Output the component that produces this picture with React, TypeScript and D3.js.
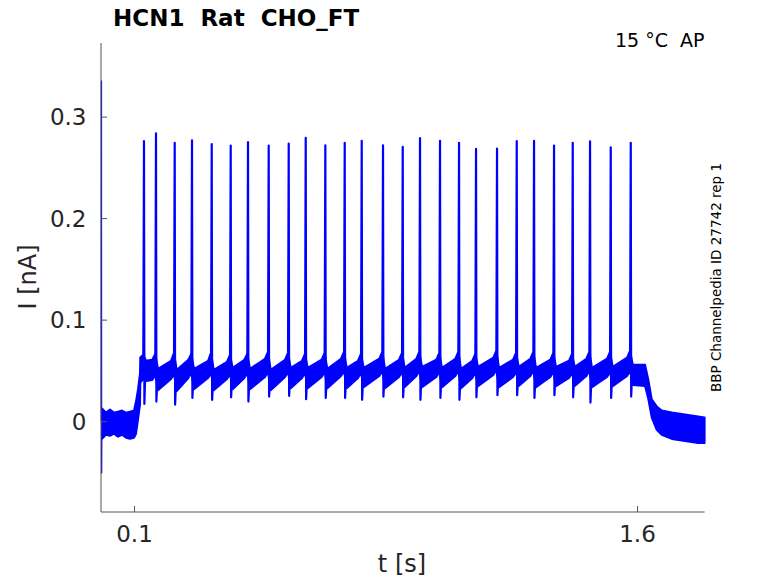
import React from "react";
import * as d3 from "d3";

// ---- data ----
const spikeT = [0.1282, 0.164, 0.2198, 0.2714, 0.3302, 0.3868, 0.4384, 0.5001, 0.5598, 0.6105, 0.669, 0.7268, 0.7775, 0.841, 0.8998, 0.9514, 1.011, 1.0677, 1.1184, 1.181, 1.2398, 1.2914, 1.351, 1.4068, 1.4584, 1.5201, 1.5798];
const spikePeak = [0.2763, 0.2839, 0.2747, 0.277, 0.2733, 0.272, 0.2753, 0.272, 0.274, 0.2796, 0.2723, 0.2747, 0.2767, 0.2723, 0.2707, 0.2792, 0.2767, 0.2747, 0.2687, 0.269, 0.2763, 0.2767, 0.272, 0.2747, 0.276, 0.2703, 0.2747];
const spikeTrough = [0.0175, 0.0198, 0.0168, 0.0234, 0.0215, 0.024, 0.0198, 0.0247, 0.0254, 0.0221, 0.0234, 0.0234, 0.0215, 0.0247, 0.024, 0.0215, 0.0234, 0.0215, 0.024, 0.026, 0.026, 0.0234, 0.026, 0.024, 0.0188, 0.0234, 0.0247];
// noise band a few ms before each spike, at its foot, and just after it
const preHi = [0.0633, 0.061, 0.06, 0.061, 0.06, 0.059, 0.061, 0.062, 0.061, 0.06, 0.061, 0.062, 0.06, 0.062, 0.061, 0.062, 0.061, 0.062, 0.06, 0.063, 0.061, 0.062, 0.061, 0.06, 0.062, 0.062, 0.063];
const preLo = [0.0386, 0.041, 0.042, 0.043, 0.043, 0.042, 0.043, 0.044, 0.044, 0.043, 0.044, 0.045, 0.043, 0.045, 0.044, 0.045, 0.044, 0.045, 0.043, 0.046, 0.044, 0.045, 0.044, 0.043, 0.045, 0.044, 0.045];
const footHi = [0.066, 0.067, 0.068, 0.067, 0.068, 0.066, 0.067, 0.069, 0.068, 0.067, 0.068, 0.069, 0.067, 0.069, 0.068, 0.069, 0.068, 0.069, 0.067, 0.07, 0.068, 0.069, 0.068, 0.067, 0.069, 0.069, 0.07];
const footLo = [0.042, 0.046, 0.047, 0.048, 0.048, 0.047, 0.048, 0.049, 0.049, 0.048, 0.049, 0.05, 0.048, 0.05, 0.049, 0.05, 0.049, 0.05, 0.048, 0.051, 0.049, 0.05, 0.049, 0.048, 0.05, 0.049, 0.05];
const postHi = [0.06, 0.052, 0.051, 0.052, 0.051, 0.053, 0.052, 0.051, 0.053, 0.053, 0.052, 0.053, 0.053, 0.052, 0.053, 0.054, 0.053, 0.052, 0.054, 0.053, 0.054, 0.053, 0.054, 0.054, 0.053, 0.054, 0.056];
const postLo = [0.04, 0.031, 0.03, 0.032, 0.031, 0.032, 0.032, 0.031, 0.033, 0.033, 0.033, 0.033, 0.034, 0.033, 0.034, 0.034, 0.034, 0.033, 0.035, 0.034, 0.035, 0.034, 0.035, 0.035, 0.034, 0.035, 0.036];
// holding level and onset of the step
const headT = [0.003, 0.0149, 0.0268, 0.0388, 0.0507, 0.0626, 0.0746, 0.0865, 0.0984, 0.1044, 0.1103, 0.1163];
const headHi = [0.0129, 0.0089, 0.0119, 0.0089, 0.0099, 0.0109, 0.0089, 0.0099, 0.0109, 0.0198, 0.0317, 0.0475];
const headLo = [-0.0168, -0.0129, -0.0139, -0.0119, -0.0148, -0.0129, -0.0158, -0.0168, -0.0158, -0.0119, 0.002, 0.0168];
// end of the step and return
const tailT = [1.6224, 1.6323, 1.6424, 1.6573, 1.6722, 1.7021, 1.7417, 1.7805, 1.8];
const tailHi = [0.056, 0.041, 0.022, 0.015, 0.011, 0.009, 0.007, 0.005, 0.004];
const tailLo = [0.035, 0.022, 0.004, -0.008, -0.013, -0.017, -0.019, -0.021, -0.021];
// capacitive artefact at the start
const artT = [0.0008, 0.0013, 0.0018, 0.0026];
const artV = [0.0, 0.336, -0.051, 0.0];

const xTicks = [0.1, 1.6];
const yTicks = [0, 0.1, 0.2, 0.3];
const xDomain = [0, 1.8];
const yDomain = [-0.089, 0.373];

const title = "HCN1  Rat  CHO_FT";
const condition = "15 °C  AP";
const sideNote = "BBP Channelpedia ID 27742 rep 1";
const xLabel = "t [s]";
const yLabel = "I [nA]";

export default function App() {
  const W = 778, H = 583;
  const left = 101, right = 704.6, top = 43, bottom = 512;
  const x = d3.scaleLinear().domain(xDomain).range([left, right]);
  const y = d3.scaleLinear().domain(yDomain).range([bottom, top]);
  const blue = "#0000ff";
  const axisColor = "#555555";
  const font = "DejaVu Sans, sans-serif";

  type B = { t: number; lo: number; hi: number };
  const band: B[] = [];
  headT.forEach((t, i) => band.push({ t, lo: headLo[i], hi: headHi[i] }));
  spikeT.forEach((t, i) => {
    band.push({ t: t - 0.011, lo: preLo[i], hi: preHi[i] });
    band.push({ t: t - 0.002, lo: footLo[i], hi: footHi[i] });
    band.push({ t: t + 0.006, lo: postLo[i], hi: postHi[i] });
  });
  tailT.forEach((t, i) => band.push({ t, lo: tailLo[i], hi: tailHi[i] }));

  const area = d3
    .area<B>()
    .x((d) => x(d.t))
    .y0((d) => y(d.lo))
    .y1((d) => y(d.hi));

  const line = d3
    .line<[number, number]>()
    .x((d) => x(d[0]))
    .y((d) => y(d[1]));

  const spikes = spikeT.map((t, i) =>
    line([
      [t - 0.002, footHi[i]],
      [t, spikePeak[i]],
      [t + 0.0012, spikeTrough[i]],
      [t + 0.004, (postLo[i] + postHi[i]) / 2],
    ])
  );
  const artifact = line(artT.map((t, i) => [t, artV[i]] as [number, number]));

  return (
    <svg
      width={W}
      height={H}
      style={{ position: "absolute", left: 0, top: 0, background: "#fff" }}
      fontFamily={font}
    >
      <rect width={W} height={H} fill="#fff" />
      {/* trace */}
      <path d={area(band) || ""} fill={blue} stroke={blue} strokeWidth={2} strokeLinejoin="round" />
      {spikes.map((d, i) => (
        <path key={i} d={d || ""} fill="none" stroke={blue} strokeWidth={2.2} strokeLinejoin="round" />
      ))}
      <path d={artifact || ""} fill="none" stroke={blue} strokeWidth={1.3} />

      {/* axes */}
      <line x1={left} x2={left} y1={top} y2={bottom} stroke={axisColor} strokeWidth={1} />
      <line x1={left} x2={right} y1={bottom} y2={bottom} stroke={axisColor} strokeWidth={1} />
      {yTicks.map((v) => (
        <g key={v}>
          <line x1={left} x2={left + 6} y1={y(v)} y2={y(v)} stroke={axisColor} />
          <text x={86.5} y={y(v) + 8.3} textAnchor="end" fontSize={23} fill="#262626">
            {d3.format("~g")(v)}
          </text>
        </g>
      ))}
      {xTicks.map((v) => (
        <g key={v}>
          <line x1={x(v)} x2={x(v)} y1={bottom} y2={bottom - 6} stroke={axisColor} />
          <text x={x(v)} y={542} textAnchor="middle" fontSize={23} fill="#262626">
            {d3.format("~g")(v)}
          </text>
        </g>
      ))}

      {/* labels */}
      <text x={402} y={572} textAnchor="middle" fontSize={24} fill="#262626">
        {xLabel}
      </text>
      <text transform="translate(36,277) rotate(-90)" textAnchor="middle" fontSize={24} fill="#262626">
        {yLabel}
      </text>
      <text x={113} y={26} fontSize={23} fontWeight="bold" fill="#000" style={{ whiteSpace: "pre" }}>
        {title}
      </text>
      <text x={704.5} y={47} textAnchor="end" fontSize={19} fill="#000" style={{ whiteSpace: "pre" }}>
        {condition}
      </text>
      <text transform="translate(720.5,277.5) rotate(-90)" textAnchor="middle" fontSize={13.5} fill="#000">
        {sideNote}
      </text>
    </svg>
  );
}
